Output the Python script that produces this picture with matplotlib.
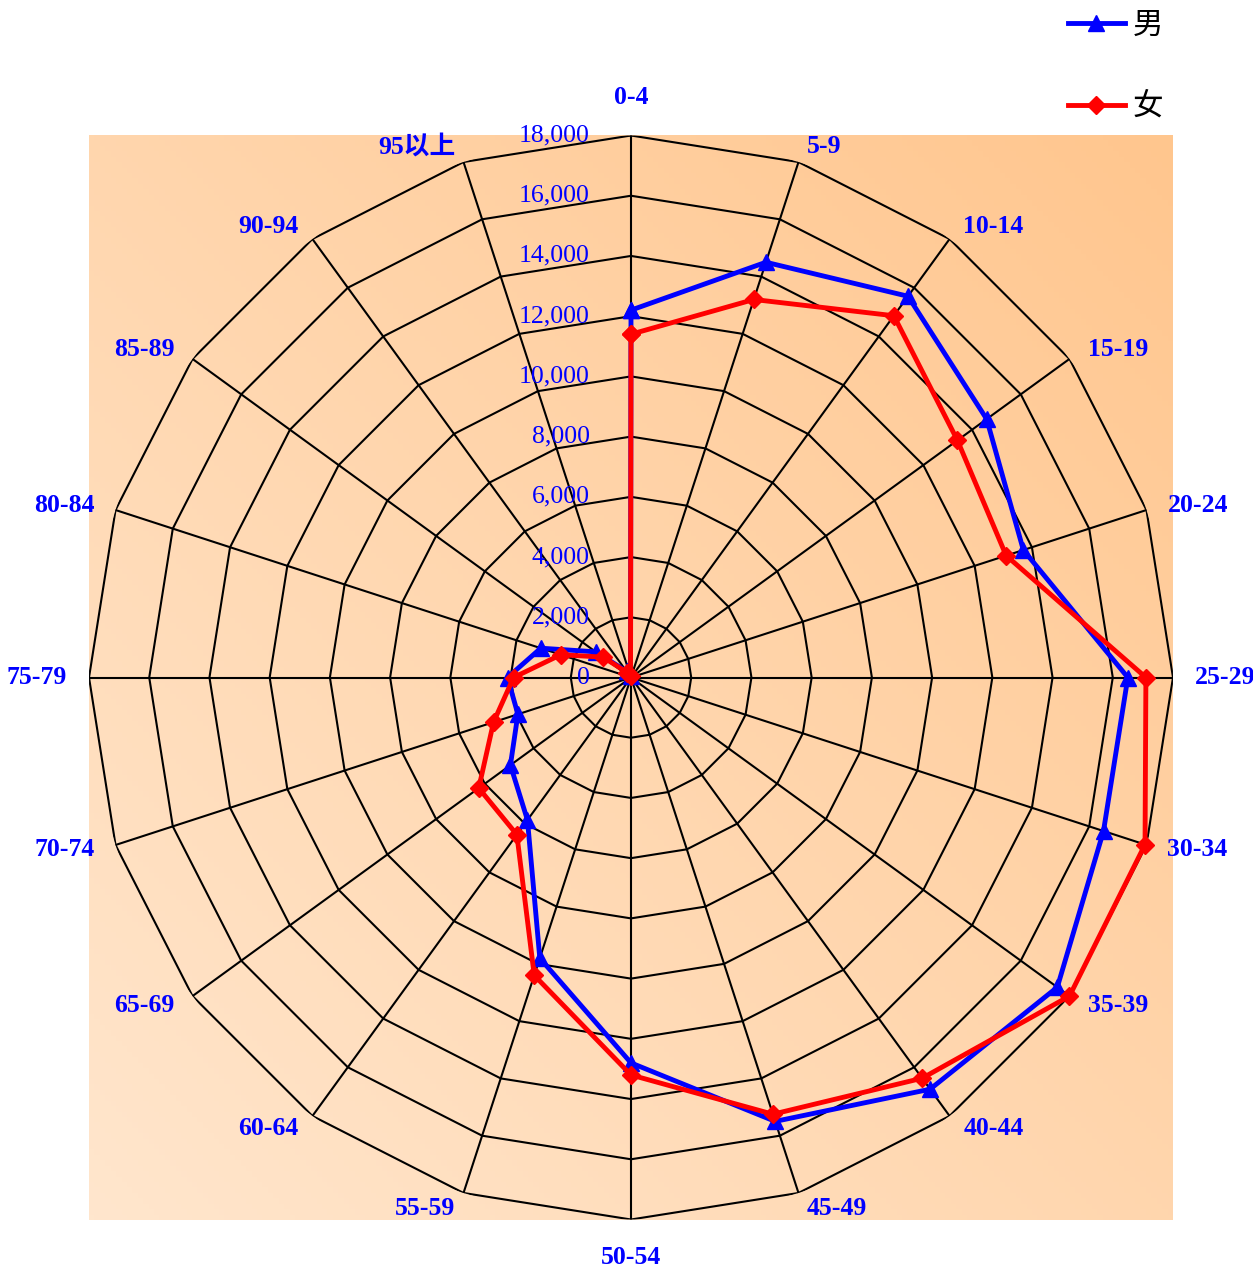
import numpy as np
import matplotlib
matplotlib.use('Agg')
import matplotlib.pyplot as plt
from matplotlib.colors import to_rgb

# age groups and population counts
groups = ['0-4', '5-9', '10-14', '15-19', '20-24', '25-29', '30-34', '35-39', '40-44', '45-49',
          '50-54', '55-59', '60-64', '65-69', '70-74', '75-79', '80-84', '85-89', '90-94', '95以上']
male = [12200, 14500, 15650, 14600, 13700, 16500, 16500, 17500, 16900, 15500,
        12800, 9800, 5850, 4950, 3950, 4100, 3150, 1450, 250, 50]
female = [11400, 13200, 14850, 13400, 13100, 17100, 17950, 18000, 16450, 15250,
          13200, 10400, 6450, 6250, 4800, 3900, 2450, 1150, 200, 50]
ticks = np.arange(0, 18001, 2000)

W, H = 1253, 1272
fig = plt.figure(figsize=(W / 100, H / 100), dpi=100)

# plot area in pixels
L, T, R_, B = 89, 135, 1173, 1220
rect = [L / W, 1 - B / H, (R_ - L) / W, (B - T) / H]

# gradient background
bg = fig.add_axes(rect)
c0 = np.array(to_rgb('#FFE6CD'))   # bottom-left
c1 = np.array(to_rgb('#FFC68E'))   # top-right
xx, yy = np.meshgrid(np.linspace(0, 1, 200), np.linspace(0, 1, 200))
t = (xx + yy) / 2
img = c0[None, None, :] * (1 - t[..., None]) + c1[None, None, :] * t[..., None]
bg.imshow(img, extent=[0, 1, 0, 1], origin='lower', aspect='auto')
bg.axis('off')

ax = fig.add_axes(rect, projection='polar')
ax.set_facecolor('none')
ax.set_theta_zero_location('N')
ax.set_theta_direction(-1)
ax.set_ylim(0, 18000)
ax.grid(False)
ax.spines['polar'].set_visible(False)
ax.set_xticks([])
ax.set_yticks([])

n = len(groups)
theta = np.arange(n) * 2 * np.pi / n
theta_c = np.append(theta, theta[0])

# polygon grid
for r in ticks[1:]:
    ax.plot(theta_c, [r] * (n + 1), color='black', lw=1.5, zorder=2)
for th in theta:
    ax.plot([th, th], [0, 18000], color='black', lw=1.5, zorder=2)

# radial tick labels
for r in ticks:
    ax.annotate(f'{r:,}', xy=(0, r), xytext=(-41, 0), textcoords='offset pixels',
                ha='right', va='center', color='blue', fontsize=18.5,
                family='Liberation Serif', zorder=5)

# category labels, placed outside each outer vertex
for th, g in zip(theta, groups):
    s, c = np.sin(th), np.cos(th)
    if abs(s) < 1e-6:
        ha, dx, dy = 'center', 0, 38 * np.sign(c)
    else:
        ha = 'left' if s > 0 else 'right'
        dx = np.sign(s) * (20 * abs(s) + 2)
        dy = 16 * c
    ax.annotate(g, xy=(th, 18000), xytext=(dx, dy), textcoords='offset pixels',
                ha=ha, va='center', color='blue', fontsize=18.5, fontweight='bold',
                family=['Liberation Serif', 'Noto Sans CJK SC'], annotation_clip=False)

m = male + male[:1]
f = female + female[:1]
ax.plot(theta_c, m, color='blue', lw=3.5, marker='^', ms=12, label='男',
        clip_on=False, zorder=6)
ax.plot(theta_c, f, color='red', lw=3.5, marker='D', ms=9, label='女',
        clip_on=False, zorder=7)

fig.legend(loc='upper left', bbox_to_anchor=(1062 / W, 1 - 4 / H), frameon=False,
           prop={'family': 'Noto Sans CJK SC', 'size': 22}, handlelength=1.85,
           handletextpad=0.25, labelspacing=1.65, borderpad=0.2, borderaxespad=0)

fig.savefig('out.png', dpi=100)
